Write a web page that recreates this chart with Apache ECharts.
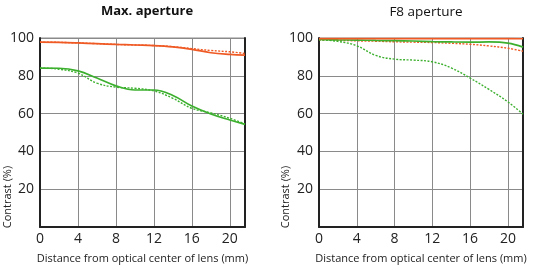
<!DOCTYPE html>
<html>
<head>
<meta charset="utf-8">
<script src="https://cdn.jsdelivr.net/npm/echarts@6/dist/echarts.min.js"></script>
<style>
  html, body { margin: 0; padding: 0; background: #fff; }
  #chart { width: 536px; height: 270px; }
</style>
</head>
<body>
<div id="chart"></div>
<script>
// distance from optical center (mm)
const distances = [0, 2, 4, 6, 8, 10, 12, 14, 16, 18, 20, 21.6]
const xTicks = [0, 4, 8, 12, 16, 20]
const yTicks = [20, 40, 60, 80, 100]

// Max. aperture
const maxOrangeSolid = [97.8, 97.7, 97.4, 97.0, 96.6, 96.3, 96.0, 95.3, 94.0, 92.2, 91.3, 90.9]
const maxOrangeDotted = [97.8, 97.7, 97.4, 97.0, 96.6, 96.3, 96.0, 95.4, 94.4, 93.4, 92.7, 91.8]
const maxGreenSolid = [84.1, 84.0, 82.6, 78.8, 74.7, 72.5, 72.5, 69.6, 64.0, 59.8, 56.6, 54.3]
const maxGreenDotted = [84.1, 83.5, 81.4, 76.1, 74.0, 73.4, 72.0, 68.1, 62.8, 60.4, 57.5, 54.5]

// F8 aperture
const f8OrangeSolid = [99.7, 99.7, 99.7, 99.7, 99.7, 99.7, 99.7, 99.7, 99.7, 99.7, 99.7, 99.6]
const f8OrangeDotted = [99.0, 98.8, 98.5, 98.3, 98.0, 97.8, 97.6, 97.2, 96.7, 95.8, 94.6, 93.0]
const f8GreenSolid = [99.2, 99.0, 98.9, 98.7, 98.6, 98.4, 98.1, 97.9, 97.8, 97.9, 97.3, 95.2]
const f8GreenDotted = [99.1, 98.2, 95.9, 90.8, 88.8, 88.3, 87.4, 84.2, 78.8, 72.8, 66.2, 59.7]

const ORANGE = '#ef5a24'
const GREEN = '#3cb02e'
const FONT = 'Open Sans'

const chart = echarts.init(document.getElementById('chart'))

const pairs = (ys) => distances.map((x, i) => [x, ys[i]])

function line(idx, ys, color, dotted) {
  return {
    type: 'line',
    xAxisIndex: idx,
    yAxisIndex: idx * 2,
    data: pairs(ys),
    smooth: 0.4,
    symbol: 'none',
    silent: true,
    lineStyle: {
      color: color,
      width: dotted ? 1.4 : 1.7,
      type: dotted ? [2, 1.5] : 'solid'
    }
  }
}

function xAxis(idx) {
  return {
    type: 'value',
    gridIndex: idx,
    min: 0,
    max: 21.6,
    interval: 4,
    name: 'Distance from optical center of lens (mm)',
    nameLocation: 'middle',
    nameGap: 26,
    nameTextStyle: { fontFamily: FONT, fontSize: 11, color: '#222' },
    axisLine: { lineStyle: { color: '#222', width: 2 } },
    axisTick: { show: false },
    axisLabel: {
      fontFamily: FONT, fontSize: 14, color: '#222', margin: 5,
      showMaxLabel: false,
      formatter: (v) => xTicks.includes(v) ? String(v) : ''
    },
    splitLine: { show: true, lineStyle: { color: '#8a8a8a', width: 1 } }
  }
}

function yAxes(idx) {
  return [{
    type: 'value',
    gridIndex: idx,
    min: 0,
    max: 100,
    interval: 20,
    axisLine: { show: true, lineStyle: { color: '#222', width: 2 } },
    axisTick: { show: false },
    axisLabel: {
      fontFamily: FONT, fontSize: 14, color: '#222', margin: 6,
      showMinLabel: false,
      formatter: (v) => yTicks.includes(v) ? String(v) : ''
    },
    splitLine: { show: true, lineStyle: { color: '#8a8a8a', width: 1 } }
  }, {
    type: 'value',
    gridIndex: idx,
    position: 'right',
    min: 0,
    max: 100,
    axisLine: { show: true, lineStyle: { color: '#222', width: 2 } },
    axisTick: { show: false },
    axisLabel: { show: false },
    splitLine: { show: false }
  }]
}

const option = {
  animation: false,
  backgroundColor: '#fff',
  title: [{
    text: 'Max. aperture',
    left: 142, top: 0, textAlign: 'center',
    textStyle: { fontFamily: FONT, fontSize: 13, fontWeight: 'bold', color: '#111' }
  }, {
    text: 'F8 aperture',
    left: 421, top: 0, textAlign: 'center',
    textStyle: { fontFamily: FONT, fontSize: 13.5, fontWeight: 'normal', color: '#111' }
  }],
  grid: [
    { left: 40, right: 291, top: 38, bottom: 43, show: true, borderColor: '#8a8a8a', borderWidth: 1 },
    { left: 319, right: 13, top: 38, bottom: 43, show: true, borderColor: '#8a8a8a', borderWidth: 1 }
  ],
  xAxis: [xAxis(0), xAxis(1)],
  yAxis: [...yAxes(0), ...yAxes(1)],
  graphic: [{
    type: 'text', x: 8, y: 197, rotation: Math.PI / 2,
    style: { text: 'Contrast (%)', fontFamily: FONT, fontSize: 11, fill: '#222', align: 'center', verticalAlign: 'middle' }
  }, {
    type: 'text', x: 286, y: 197, rotation: Math.PI / 2,
    style: { text: 'Contrast (%)', fontFamily: FONT, fontSize: 11, fill: '#222', align: 'center', verticalAlign: 'middle' }
  }],
  series: [
    line(0, maxOrangeDotted, ORANGE, true),
    line(0, maxOrangeSolid, ORANGE, false),
    line(0, maxGreenDotted, GREEN, true),
    line(0, maxGreenSolid, GREEN, false),
    line(1, f8OrangeDotted, ORANGE, true),
    line(1, f8GreenDotted, GREEN, true),
    line(1, f8GreenSolid, GREEN, false),
    line(1, f8OrangeSolid, ORANGE, false)
  ]
}

chart.setOption(option)
</script>
</body>
</html>
